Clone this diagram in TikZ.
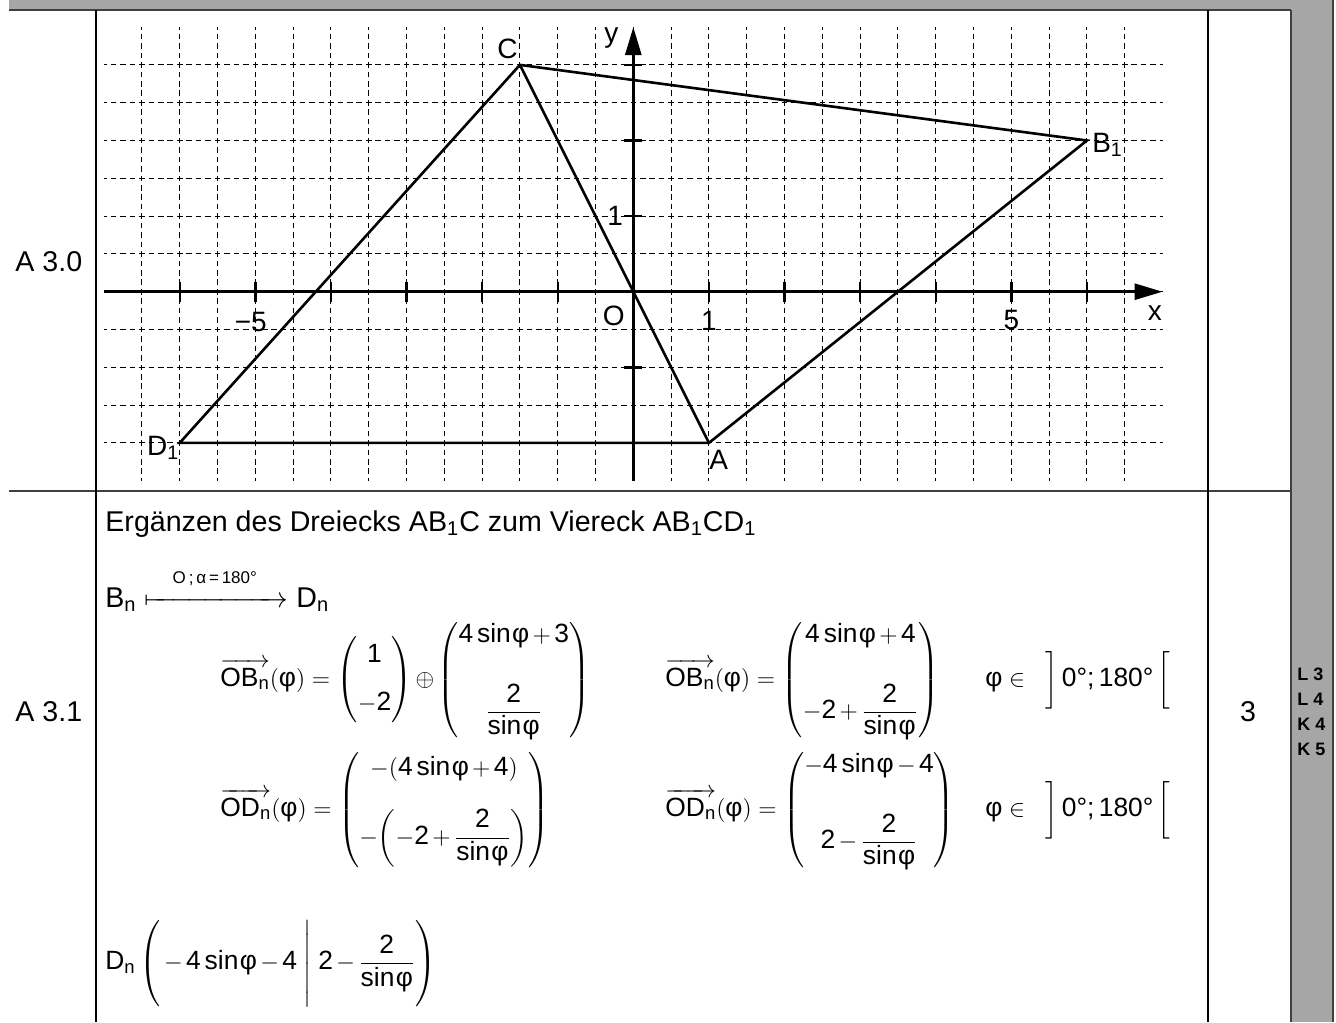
\documentclass[tikz,border=0pt]{standalone}
\usepackage{amsmath, mathtools}
\usepackage[no-math]{fontspec}
\setmainfont{Liberation Sans}
\usetikzlibrary{arrows.meta}

\definecolor{bargray}{HTML}{A6A6A6}
\definecolor{rulegray}{HTML}{404040}

\newcommand{\ph}{\text{φ}}
\newcommand{\sinph}{\text{sin}\mkern1mu\ph}
\newcommand{\vecn}[1]{\overrightarrow{\text{#1}_{\text{n}}}}
\newcommand{\tightmath}{\medmuskip=2.5mu\relax}
\newcommand{\makedigitsans}[1]{\begingroup\lccode`\~=`#1\lowercase{\endgroup\gdef~}{\text{#1}}\global\mathcode`#1="8000\relax}
\AtBeginDocument{%
  \makedigitsans0\makedigitsans1\makedigitsans2\makedigitsans3\makedigitsans4%
  \makedigitsans5\makedigitsans6\makedigitsans7\makedigitsans8\makedigitsans9}

\tikzset{
  gridline/.style={line width=0.5pt, dash pattern=on 2.8pt off 1.925pt, dash phase=1.4pt},
  axis/.style={line width=1.4pt, -{Triangle[length=14pt,width=8pt]}},
  edge/.style={line width=1.3pt},
  axtick/.style={line width=1.2pt},
  lbl/.style={font=\fontsize{14}{16}\selectfont, inner sep=0pt},
  body/.style={font=\fontsize{14.3}{17}\selectfont, inner sep=0pt, anchor=west},
  formula/.style={font={\fontsize{13.2}{16}\selectfont\tightmath}, inner sep=0pt, anchor=west}
}

\begin{document}
\begin{tikzpicture}[x=0.5pt, y=-0.5pt]
    \useasboundingbox (0,0) rectangle (1336,1022);
    \fill[bargray] (9,0) rectangle (1333,9.5);
    \fill[bargray] (1291,9.5) rectangle (1333,1022);
    \draw[rulegray, line width=1pt] (9,10) -- (1291,10);
    \draw[rulegray, line width=1pt] (1291,10) -- (1291,1022);
    \draw[rulegray, line width=1pt] (1333,0) -- (1333,1022);
    \draw[rulegray, line width=1pt] (9,491) -- (1291,491);
    \draw[line width=0.8pt] (96,10) -- (96,1022);
    \draw[line width=0.8pt] (1208,10) -- (1208,1022);

    \begin{scope}[shift={(633.3,291.7)}, x=37.8pt, y=37.8pt]
        \foreach \i in {-4,...,6} \draw[gridline] (-7,\i/2) -- (7,\i/2);
        \foreach \i in {-13,...,13} \draw[gridline] (\i/2,-2.5) -- (\i/2,3.5);
        \coordinate (xl) at (-7,0);
        \coordinate (xr) at (7,0);
        \coordinate (yb) at (0,-2.5);
        \coordinate (yt) at (0,3.5);
        \draw[axis] (xl) -- (xr);
        \draw[axis] (yb) -- (yt);
        \foreach \x in {-6,...,-1,1,2,...,6} \draw[axtick] (\x,-0.13) -- (\x,0.13);
        \foreach \y in {-2,-1,1,2,3} \draw[axtick] (-0.12,\y) -- (0.12,\y);
        \node[lbl] (lx) at (6.9,-0.28) {x};
        \node[lbl] (ly) at (-0.29,3.36) {y};
        \node[lbl] (lo) at (-0.26,-0.32) {O};
        \node[lbl] (lonex) at (1,-0.39) {1};
        \node[lbl] (lfive) at (5,-0.37) {5};
        \node[lbl] (lmfive) at (-5.06,-0.4) {−5};
        \node[lbl] (loney) at (-0.24,1) {1};

        \coordinate (A) at (1,-2);
        \coordinate (B1) at (6,2);
        \coordinate (C) at (-1.5,3);
        \coordinate (D1) at (-6,-2);
        \draw[edge] (D1) -- (A) -- (B1) -- (C) -- cycle;
        \draw[edge] (C) -- (A);
        \node[lbl, anchor=base west, yshift=-13.5pt] (lA) at (A) {A};
        \node[lbl, anchor=base west, xshift=2.5pt, yshift=-5.85pt] (lB) at (B1) {B\textsubscript{1}};
        \node[lbl, anchor=base east, xshift=-1pt, yshift=3pt] (lC) at (C) {C};
        \node[lbl, anchor=base east, yshift=-6.2pt] (lD) at (D1) {D\textsubscript{1}};
    \end{scope}

    \node[body] (athree) at (15,262) {A 3.0};
    \node[body] (athreeone) at (15,712) {A 3.1};
    \node[body, anchor=center] (pts) at (1248,712) {3};
    \node[font=\bfseries\fontsize{9}{12.5}\selectfont, align=left, inner sep=0pt, anchor=west] (komp) at (1297,712) {L 3\\L 4\\K 4\\K 5};

    \node[body] (title) at (105,524) {Ergänzen des Dreiecks AB\textsubscript{1}C zum Viereck AB\textsubscript{1}CD\textsubscript{1}};
    \node[body] (map) at (105,590) {$\text{B}_{\text{n}}\xmapsto{\hspace{11pt}\raisebox{4pt}{\fontsize{8.5}{9}\selectfont O\,;\,α\,=\,180°}\hspace{11pt}}\text{D}_{\text{n}}$};

    \node[formula] (eqbone) at (220,680) {$\vecn{OB}(\ph) = \begin{pmatrix} 1\\[8pt] -2 \end{pmatrix} \oplus \begin{pmatrix} 4\,\sinph + 3\\[16pt] \dfrac{2}{\sinph} \end{pmatrix}$};
    \node[formula] (eqbtwo) at (665,680) {$\vecn{OB}(\ph) = \begin{pmatrix} 4\,\sinph + 4\\[16pt] -2 + \dfrac{2}{\sinph} \end{pmatrix}$};
    \node[formula] (domb) at (985,680) {$\ph \in \;\;\bigg]\,\text{0°;\,180°}\,\bigg[$};

    \node[formula] (eqdone) at (220,810) {$\vecn{OD}(\ph) = \begin{pmatrix} -(4\,\sinph + 4)\\[12pt] -\!\left(-2 + \dfrac{2}{\sinph}\right) \end{pmatrix}$};
    \node[formula] (eqdtwo) at (665,810) {$\vecn{OD}(\ph) = \begin{pmatrix} -4\,\sinph - 4\\[16pt] 2 - \dfrac{2}{\sinph} \end{pmatrix}$};
    \node[formula] (domd) at (985,810) {$\ph \in \;\;\bigg]\,\text{0°;\,180°}\,\bigg[$};

    \node[formula] (dpoint) at (105,965) {$\text{D}_{\text{n}}\left(\rule[-20pt]{0pt}{42pt}-4\,\sinph - 4\;\middle|\;2 - \dfrac{2}{\sinph}\right)$};
\end{tikzpicture}
\end{document}
